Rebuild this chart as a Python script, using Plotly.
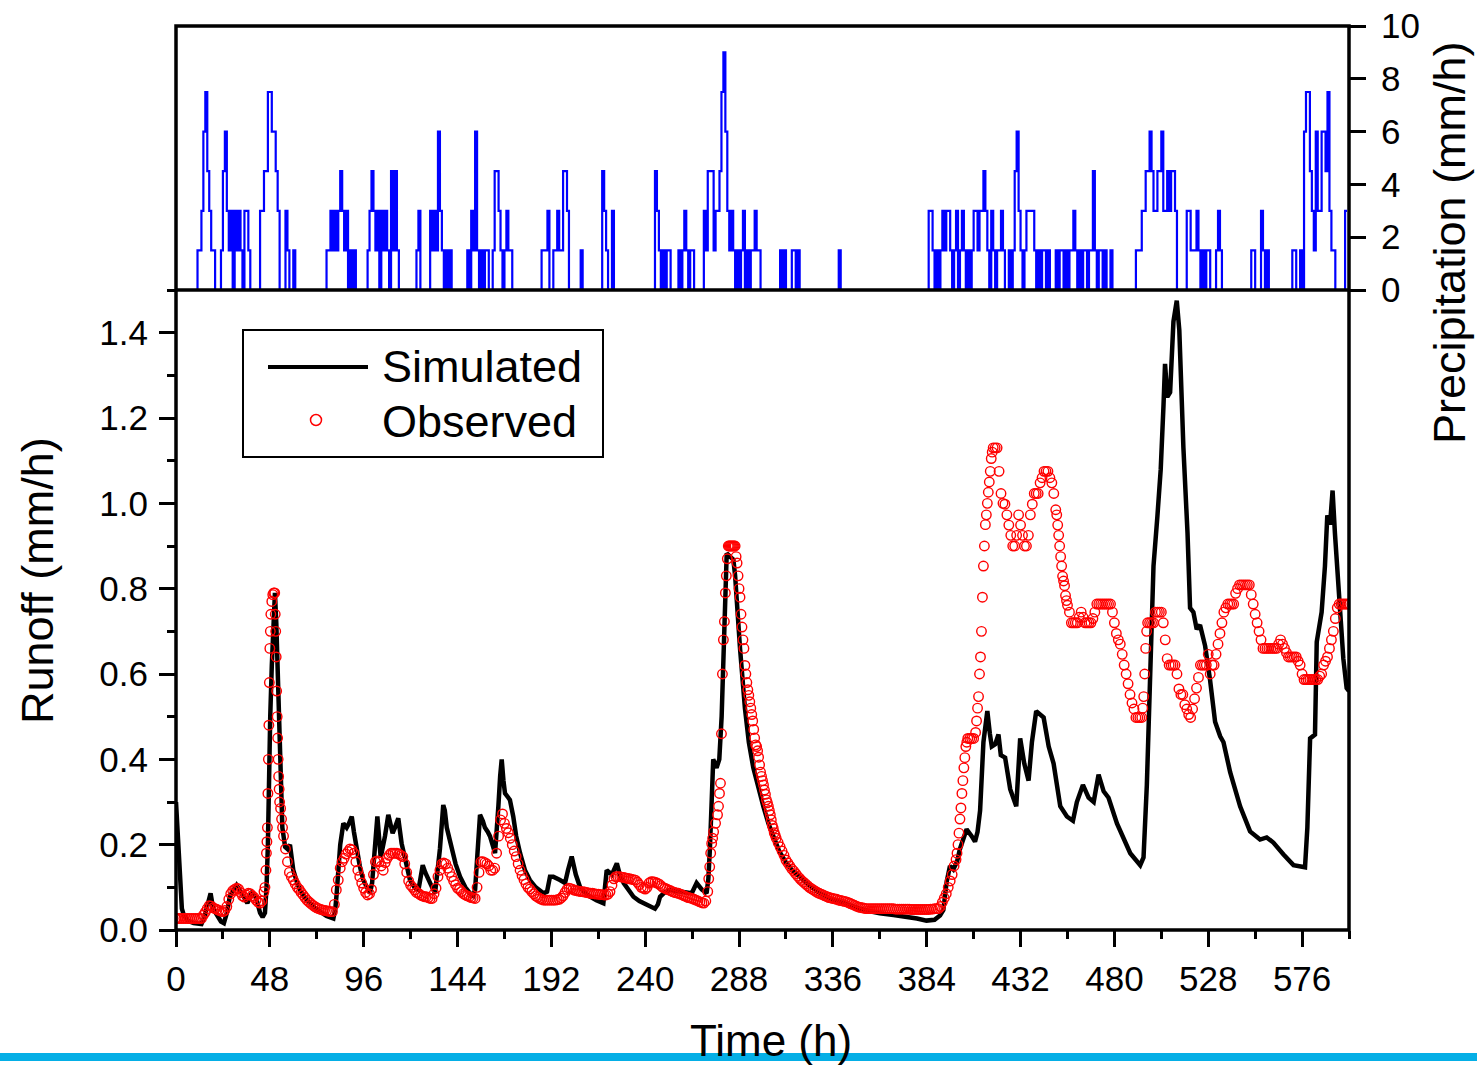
import plotly.graph_objects as go

# ---------------- data ----------------
# Hourly precipitation (mm/h), one row per 24 h, hours 0..599
precip_rows = [
    [0,0,0,0,0,0,0,0,0,0,0,1.5,1.5,3,6,7.5,4.5,3,1.5,1.5,0,0,0,1.5],
    [4.5,6,3,1.5,3,0,3,1.5,3,1.5,0,3,3,1.5,0,0,0,0,0,3,3,4.5,4.5,7.5],
    [7.5,6,6,4.5,3,0,0,0,3,1.5,0,0,1.5,0,0,0,0,0,0,0,0,0,0,0],
    [0,0,0,0,0,1.5,1.5,3,1.5,3,1.5,3,4.5,3,1.5,3,0,1.5,0,1.5,0,0,0,0],
    [0,0,1.5,3,4.5,3,1.5,3,0,3,1.5,3,1.5,0,4.5,1.5,4.5,1.5,0,0,0,0,0,0],
    [0,0,0,1.5,3,0,0,0,0,0,3,1.5,3,1.5,6,3,1.5,0,1.5,0,1.5,0,0,0],
    [0,0,0,0,0,1.5,0,3,1.5,6,1.5,0,1.5,0,1.5,1.5,0,0,1.5,4.5,4.5,3,1.5,0],
    [1.5,3,1.5,1.5,0,0,0,0,0,0,0,0,0,0,0,0,0,0,0,1.5,1.5,1.5,3,0],
    [0,1.5,1.5,3,1.5,1.5,4.5,4.5,3,0,0,0,0,0,0,1.5,0,0,0,0,0,0,0,0],
    [0,0,4.5,3,1.5,0,0,3,0,0,0,0,0,0,0,0,0,0,0,0,0,0,0,0],
    [0,0,0,0,0,4.5,3,1.5,0,1.5,0,1.5,1.5,0,0,0,0,1.5,0,1.5,3,1.5,0,1.5],
    [1.5,0,0,0,0,0,3,1.5,4.5,4.5,4.5,1.5,3,3,4.5,7.5,9,6,3,1.5,3,1.5,0,1.5],
    [0,1.5,3,0,1.5,0,1.5,1.5,3,1.5,1.5,0,0,0,0,0,0,0,0,0,0,1.5,0,1.5],
    [0,0,0,1.5,1.5,0,1.5,0,0,0,0,0,0,0,0,0,0,0,0,0,0,0,0,0],
    [0,0,0,1.5,0,0,0,0,0,0,0,0,0,0,0,0,0,0,0,0,0,0,0,0],
    [0,0,0,0,0,0,0,0,0,0,0,0,0,0,0,0,0,0,0,0,0,0,0,0],
    [0,3,3,1.5,0,1.5,0,1.5,3,1.5,3,3,1.5,0,1.5,3,0,1.5,3,1.5,0,1.5,0,1.5],
    [3,3,1.5,3,3,4.5,3,1.5,0,3,1.5,0,1.5,1.5,3,1.5,0,0,1.5,0,1.5,4.5,6,3],
    [1.5,0,1.5,3,3,3,3,1.5,0,1.5,0,1.5,1.5,0,1.5,0,0,0,1.5,0,1.5,1.5,0,1.5],
    [0,1.5,1.5,3,1.5,0,1.5,0,1.5,1.5,0,1.5,1.5,4.5,1.5,0,1.5,1.5,0,1.5,0,0,1.5,0],
    [0,0,0,0,0,0,0,0,0,0,0,1.5,1.5,1.5,3,3,4.5,4.5,6,4.5,3,3,4.5,4.5],
    [6,3,3,4.5,3,4.5,4.5,3,0,0,0,0,0,3,3,1.5,1.5,1.5,3,1.5,0,1.5,0,1.5],
    [1.5,0,0,0,1.5,3,1.5,0,0,0,0,0,0,0,0,0,0,0,0,0,0,0,1.5,1.5],
    [0,0,0,3,1.5,0,1.5,0,0,0,0,0,0,0,0,0,0,0,0,1.5,1.5,0,0,1.5],
    [0,6,7.5,7.5,4.5,3,1.5,6,3,3,6,6,4.5,7.5,3,1.5,1.5,0,0,0,0,0,3,3],
]

# Hourly observed runoff (mm/h), one row per 24 h, hours 0..599, plus hour 600
obs_rows = [
    [0.027,0.027,0.027,0.027,0.027,0.027,0.027,0.027,0.027,0.027,0.027,0.027,0.027,0.027,0.035,0.042,0.05,0.057,0.056,0.052,0.05,0.048,0.046,0.044],
    [0.043,0.046,0.055,0.072,0.085,0.092,0.095,0.098,0.096,0.088,0.08,0.077,0.082,0.086,0.085,0.08,0.076,0.07,0.065,0.063,0.068,0.09,0.14,0.32],
    [0.66,0.77,0.79,0.70,0.45,0.30,0.26,0.22,0.19,0.16,0.135,0.125,0.117,0.108,0.1,0.095,0.088,0.082,0.076,0.07,0.066,0.062,0.058,0.055],
    [0.052,0.05,0.048,0.047,0.046,0.045,0.044,0.043,0.043,0.06,0.094,0.117,0.145,0.16,0.168,0.178,0.184,0.19,0.188,0.18,0.16,0.14,0.125,0.11],
    [0.098,0.088,0.082,0.085,0.095,0.13,0.16,0.162,0.16,0.15,0.14,0.158,0.168,0.175,0.18,0.18,0.18,0.18,0.178,0.175,0.172,0.155,0.135,0.115],
    [0.105,0.1,0.094,0.088,0.086,0.082,0.08,0.078,0.078,0.076,0.074,0.074,0.085,0.098,0.125,0.14,0.155,0.157,0.155,0.145,0.135,0.125,0.115,0.106],
    [0.098,0.095,0.09,0.085,0.082,0.08,0.078,0.076,0.075,0.074,0.1,0.135,0.16,0.16,0.158,0.155,0.15,0.14,0.14,0.145,0.18,0.22,0.258,0.272],
    [0.25,0.238,0.228,0.215,0.2,0.185,0.172,0.155,0.14,0.128,0.118,0.108,0.1,0.096,0.09,0.085,0.08,0.077,0.074,0.072,0.07,0.07,0.07,0.07],
    [0.07,0.07,0.07,0.071,0.072,0.075,0.08,0.088,0.095,0.098,0.097,0.095,0.093,0.092,0.091,0.09,0.09,0.089,0.088,0.087,0.086,0.086,0.085,0.084],
    [0.084,0.083,0.083,0.082,0.082,0.084,0.09,0.105,0.12,0.125,0.125,0.125,0.124,0.123,0.122,0.121,0.12,0.119,0.118,0.117,0.112,0.106,0.1,0.098],
    [0.096,0.1,0.11,0.113,0.113,0.112,0.11,0.108,0.104,0.1,0.098,0.096,0.094,0.092,0.09,0.088,0.087,0.086,0.084,0.082,0.08,0.078,0.076,0.075],
    [0.074,0.072,0.07,0.068,0.066,0.064,0.063,0.068,0.09,0.148,0.203,0.23,0.25,0.27,0.32,0.46,0.68,0.79,0.87,0.9,0.9,0.9,0.9,0.86],
    [0.8,0.74,0.68,0.62,0.58,0.55,0.52,0.49,0.45,0.43,0.405,0.37,0.35,0.328,0.305,0.29,0.27,0.245,0.228,0.215,0.205,0.195,0.185,0.175],
    [0.164,0.157,0.15,0.143,0.138,0.132,0.126,0.121,0.116,0.112,0.108,0.104,0.1,0.097,0.094,0.091,0.088,0.086,0.084,0.082,0.08,0.078,0.076,0.075],
    [0.074,0.073,0.072,0.07,0.069,0.068,0.067,0.066,0.064,0.062,0.06,0.058,0.056,0.054,0.053,0.052,0.051,0.05,0.05,0.05,0.05,0.05,0.05,0.05],
    [0.05,0.05,0.05,0.05,0.05,0.05,0.05,0.05,0.049,0.049,0.049,0.049,0.049,0.049,0.049,0.049,0.048,0.048,0.048,0.048,0.048,0.048,0.048,0.048],
    [0.048,0.048,0.049,0.049,0.05,0.05,0.05,0.055,0.065,0.075,0.085,0.1,0.115,0.13,0.15,0.165,0.2,0.26,0.32,0.38,0.43,0.449,0.449,0.449],
    [0.449,0.463,0.52,0.6,0.7,0.853,0.95,1.0,1.05,1.105,1.13,1.13,1.13,1.075,1.023,1.0,0.998,0.973,0.949,0.925,0.9,0.9,0.925,0.973],
    [0.949,0.925,0.9,0.9,0.925,0.973,0.998,1.023,1.023,1.023,1.048,1.06,1.075,1.075,1.075,1.06,1.048,1.023,0.985,0.949,0.9,0.853,0.818,0.784],
    [0.761,0.745,0.72,0.72,0.72,0.72,0.733,0.745,0.733,0.72,0.72,0.72,0.72,0.73,0.745,0.764,0.764,0.764,0.764,0.764,0.764,0.764,0.764,0.745],
    [0.72,0.695,0.68,0.67,0.646,0.621,0.6,0.577,0.552,0.532,0.518,0.498,0.498,0.498,0.498,0.547,0.66,0.72,0.72,0.72,0.72,0.745,0.745,0.745],
    [0.745,0.72,0.68,0.636,0.621,0.621,0.621,0.621,0.6,0.565,0.552,0.552,0.528,0.518,0.505,0.498,0.518,0.542,0.567,0.592,0.621,0.621,0.621,0.621],
    [0.646,0.6,0.621,0.621,0.646,0.67,0.695,0.72,0.745,0.755,0.764,0.764,0.764,0.764,0.789,0.8,0.809,0.809,0.809,0.809,0.809,0.809,0.786,0.764],
    [0.74,0.72,0.7,0.68,0.66,0.66,0.66,0.66,0.66,0.66,0.66,0.66,0.67,0.68,0.67,0.66,0.65,0.64,0.64,0.64,0.64,0.64,0.63,0.621],
    [0.6,0.587,0.587,0.587,0.587,0.587,0.587,0.587,0.587,0.595,0.6,0.621,0.63,0.64,0.66,0.68,0.7,0.73,0.755,0.764,0.764,0.764,0.764,0.764],
    [0.764],
]

# Additional (sub-hourly) observed points on the steep limbs: (time h, runoff mm/h)
obs_extra = [
    (45.5,0.1),(46.25,0.18),(46.5,0.207),(46.75,0.24),(47.25,0.4),(47.5,0.48),(47.75,0.58),
    (48.25,0.70),(48.5,0.74),(49.5,0.786),(50.5,0.79),(50.75,0.74),(51.25,0.64),(51.5,0.56),
    (51.75,0.5),(52.25,0.4),(52.5,0.36),(52.75,0.33),(53.5,0.285),(54.5,0.24),
    (272.5,0.12),(273.5,0.18),(274.5,0.215),(277.5,0.29),(278.5,0.344),(279.5,0.6),(280.5,0.723),
    (281.5,0.83),(282.5,0.9),(283.5,0.9),(284.5,0.9),(285.5,0.9),
    (286.5,0.875),(287.5,0.83),(288.5,0.78),(289.5,0.71),(290.5,0.66),(291.5,0.6),(292.5,0.563),
    (293.5,0.535),(294.5,0.505),(295.5,0.47),(296.5,0.434),(297.5,0.42),(298.5,0.387),(299.5,0.36),
    (300.5,0.34),(301.5,0.318),(302.5,0.298),(303.5,0.28),(304.5,0.258),(305.5,0.238),(306.5,0.222),
    (399.5,0.18),(400.5,0.227),(401.5,0.286),(402.5,0.35),(403.5,0.404),(404.5,0.44),
    (409.5,0.49),(410.5,0.547),(411.5,0.64),(412.5,0.78),(413.5,0.9),(414.5,0.973),(415.5,1.026),
    (416.5,1.075),(417.5,1.12),
    (450.5,0.973),(451.5,0.925),(452.5,0.875),(453.5,0.829),(454.5,0.807),(455.5,0.772),
    (494.5,0.52),(495.5,0.6),(496.5,0.7),
]

# Simulated runoff (time h, runoff mm/h)
sim_points = [
    (0,0.30),(1,0.2),(2,0.1),(3,0.05),(4,0.035),(6,0.022),(9,0.016),(13,0.014),(14.5,0.03),(16,0.06),
    (17.7,0.086),(19,0.05),(20.8,0.035),(23,0.02),(24.5,0.016),(26,0.04),(27.6,0.08),(29.5,0.095),
    (31,0.105),(33,0.09),(35,0.072),(36.5,0.063),(38.7,0.086),(41,0.075),(43,0.04),(44.3,0.03),
    (45.5,0.04),(46.3,0.1),(47,0.2),(47.5,0.35),(48.2,0.5),(49,0.62),(50,0.75),(50.6,0.79),
    (51.3,0.72),(51.8,0.63),(52.5,0.5),(53.2,0.4),(54,0.3),(54.4,0.24),(55.8,0.195),(57,0.19),
    (58.3,0.2),(60,0.14),(62,0.11),(63.4,0.094),(66,0.075),(68.5,0.063),(71,0.052),(73.7,0.043),
    (77,0.033),(80.5,0.027),(81.5,0.05),(82.2,0.086),(83,0.14),(84,0.2),(85.6,0.25),(87.3,0.24),
    (88.5,0.25),(89.9,0.266),(91,0.23),(92.4,0.19),(94,0.15),(95.8,0.117),(97.5,0.1),(99.2,0.086),
    (100.3,0.11),(101.3,0.164),(103,0.266),(104.7,0.17),(106,0.21),(106.9,0.22),(108.6,0.27),
    (110,0.24),(110.8,0.227),(112,0.24),(113.7,0.262),(115.4,0.203),(117.5,0.16),(119.7,0.117),
    (122,0.1),(124,0.094),(125,0.12),(126.2,0.152),(127.5,0.135),(129,0.117),(131,0.1),(132.5,0.086),
    (133.5,0.12),(135,0.19),(136.7,0.293),(137.5,0.28),(138.5,0.24),(141,0.19),(143,0.155),
    (145.3,0.125),(148,0.1),(150.4,0.086),(152,0.08),(153,0.095),(154.3,0.18),(155.5,0.27),
    (157,0.255),(158,0.24),(159.5,0.23),(160.6,0.22),(163.2,0.18),(164,0.22),(164.9,0.29),
    (165.8,0.36),(166.6,0.4),(167.5,0.35),(168.3,0.32),(170,0.31),(170.8,0.305),(172.5,0.266),
    (174,0.22),(176,0.18),(178.5,0.14),(181,0.117),(184,0.1),(188,0.086),(189.8,0.09),(191.3,0.125),
    (193,0.125),(196.4,0.117),(199,0.11),(200.5,0.14),(202.4,0.172),(204.5,0.13),(206.7,0.1),
    (209,0.088),(211.8,0.078),(215,0.07),(218.6,0.063),(220.3,0.14),(221.5,0.135),(223,0.13),
    (225.5,0.156),(227,0.13),(229,0.11),(231.5,0.092),(234,0.078),(237,0.068),(240.8,0.059),
    (245,0.05),(246.5,0.06),(247.6,0.078),(250,0.088),(252.7,0.094),(255,0.092),(257.8,0.09),
    (261,0.088),(263.8,0.086),(266.3,0.11),(268.9,0.095),(271.4,0.086),(272.3,0.12),(273.1,0.19),
    (274,0.3),(274.8,0.4),(276.5,0.38),(277.9,0.4),(279.1,0.5),(280,0.62),(280.8,0.77),
    (281.7,0.883),(283.4,0.875),(285.1,0.868),(286,0.83),(286.8,0.77),(288.5,0.66),(291,0.52),
    (293,0.44),(295.3,0.38),(298,0.33),(300.4,0.29),(303,0.25),(305.5,0.22),(308.5,0.185),
    (312.3,0.156),(315.5,0.138),(319.1,0.125),(324,0.104),(329.4,0.086),(334,0.075),(339.6,0.066),
    (345,0.057),(349.8,0.05),(355,0.044),(360,0.039),(367,0.035),(373.7,0.031),(379,0.027),
    (383.9,0.022),(386,0.023),(388,0.024),(390.8,0.034),(392.5,0.047),(394.2,0.113),(395.9,0.15),
    (397.6,0.142),(399.5,0.16),(401,0.19),(403,0.215),(404.4,0.236),(407,0.22),(408.7,0.207),
    (410,0.23),(411.3,0.28),(413,0.44),(415,0.513),(416.3,0.46),(417.3,0.43),(419,0.435),
    (420.7,0.458),(421.9,0.41),(424.1,0.404),(426.7,0.33),(429.8,0.29),(431.8,0.449),(433.9,0.39),
    (436.1,0.35),(437.8,0.44),(440,0.513),(443.8,0.498),(446.4,0.43),(448.9,0.39),(452.3,0.29),
    (455.7,0.266),(458.8,0.256),(460.8,0.3),(463.9,0.34),(466.8,0.31),(469.4,0.3),(471.9,0.364),
    (474.5,0.325),(477,0.31),(481.3,0.25),(488.1,0.18),(493.2,0.152),(494.9,0.17),(496.6,0.34),
    (498.3,0.587),(500,0.853),(502,0.97),(503.7,1.08),(505.1,1.228),(505.9,1.327),(507.1,1.25),
    (508.5,1.26),(510.2,1.426),(511.9,1.475),(513.2,1.406),(515.3,1.13),(517.4,0.93),(518.7,0.755),
    (520.4,0.745),(522.1,0.705),(523.8,0.715),(526.4,0.666),(528.9,0.587),(531.5,0.488),
    (534.1,0.454),(535.8,0.44),(539.2,0.37),(544.3,0.29),(549.4,0.231),(554.5,0.212),(557.9,0.217),
    (561.3,0.205),(566.5,0.177),(571.6,0.152),(577.5,0.147),(578.7,0.24),(580.1,0.449),
    (582.6,0.458),(583.5,0.675),(586,0.745),(587.7,0.853),(588.9,0.972),(590.3,0.95),(591.6,1.03),
    (592.8,0.93),(594.5,0.8),(597.1,0.636),(598.8,0.567),(600,0.56),
]

x_tick_values = [0, 48, 96, 144, 192, 240, 288, 336, 384, 432, 480, 528, 576]
series_names = ["Simulated", "Observed"]

# ---------------- assemble series ----------------
precip_mm = [v for row in precip_rows for v in row]
precip_hours = list(range(len(precip_mm)))

obs_hourly = [v for row in obs_rows for v in row]
obs_time = list(range(len(obs_hourly))) + [p[0] for p in obs_extra]
obs_runoff = obs_hourly + [p[1] for p in obs_extra]

sim_time = [p[0] for p in sim_points]
sim_runoff = [p[1] for p in sim_points]

FONT = "Liberation Sans, Arial, Helvetica, sans-serif"

# plot-area geometry (px) used for paper-coordinate conversion
L, R, T, B = 176, 1349, 26, 930
W, H = 1477, 1066
PW, PH = R - L, B - T
split = (B - 290) / PH  # boundary between runoff and precipitation panels


def px(xp):
    return (xp - L) / PW


def py(yp):
    return (B - yp) / PH


fig = go.Figure()

fig.add_trace(go.Scatter(
    x=precip_hours, y=precip_mm, mode="lines", xaxis="x", yaxis="y2",
    line=dict(color="#0000FF", width=2.2, shape="hv"), name="Precipitation",
    showlegend=False,
))
fig.add_trace(go.Scatter(
    x=sim_time, y=sim_runoff, mode="lines", xaxis="x", yaxis="y",
    line=dict(color="black", width=4.5), name=series_names[0], showlegend=False,
))
fig.add_trace(go.Scatter(
    x=obs_time, y=obs_runoff, mode="markers", xaxis="x", yaxis="y",
    marker=dict(symbol="circle-open", size=9.5, color="#FF0000",
                line=dict(width=1.4, color="#FF0000")),
    name=series_names[1], showlegend=False, cliponaxis=True,
))

tick_common = dict(ticks="outside", ticklen=16, tickwidth=3, tickcolor="black",
                   showgrid=False, zeroline=False, showline=False, automargin=False,
                   tickfont=dict(family=FONT, size=35, color="black"))

fig.update_layout(
    width=W, height=H, autosize=False,
    margin=dict(l=L, r=W - R, t=T, b=H - B, pad=0),
    paper_bgcolor="white", plot_bgcolor="white",
    font=dict(family=FONT, color="black", size=35),
    showlegend=False,
    xaxis=dict(range=[0, 600], tickvals=x_tick_values, anchor="y",
               ticklabelstandoff=2,
               minor=dict(dtick=24, tick0=0, ticks="outside", ticklen=8,
                          tickwidth=3, tickcolor="black", showgrid=False),
               **tick_common),
    yaxis=dict(domain=[0, split], range=[0, 1.5], tick0=0, dtick=0.2,
               tickformat=".1f", anchor="x", ticklabelstandoff=4,
               minor=dict(dtick=0.1, tick0=0, ticks="outside", ticklen=8,
                          tickwidth=3, tickcolor="black", showgrid=False),
               **tick_common),
    yaxis2=dict(domain=[split, 1], range=[0, 10], tick0=0, dtick=2,
                side="right", anchor="x", ticklabelstandoff=8, **tick_common),
)

shapes = [
    # frame around both panels
    dict(type="rect", xref="paper", yref="paper", x0=0, x1=1, y0=0, y1=1,
         line=dict(color="black", width=3.5), layer="above"),
    # panel separator
    dict(type="line", xref="paper", yref="paper", x0=0, x1=1, y0=split, y1=split,
         line=dict(color="black", width=3.5), layer="above"),
    # legend box
    dict(type="rect", xref="paper", yref="paper", x0=px(243), x1=px(603),
         y0=py(457), y1=py(330), line=dict(color="black", width=2),
         fillcolor="white", layer="above"),
    # legend line sample
    dict(type="line", xref="paper", yref="paper", x0=px(268), x1=px(368),
         y0=py(367), y1=py(367), line=dict(color="black", width=4), layer="above"),
    # legend marker sample
    dict(type="circle", xref="paper", yref="paper", x0=px(310.5), x1=px(321.5),
         y0=py(425.5), y1=py(414.5), line=dict(color="#FF0000", width=1.5),
         layer="above"),
    # cyan page rule at the bottom
    dict(type="rect", xref="paper", yref="paper", x0=px(-5), x1=px(W + 5),
         y0=py(1061), y1=py(1053), line=dict(width=0), fillcolor="#05AFE6",
         layer="below"),
]
fig.update_layout(shapes=shapes)

annotations = [
    dict(text="Simulated", x=px(380), y=py(367), xanchor="left", yanchor="middle",
         font=dict(family=FONT, size=45, color="black")),
    dict(text="Observed", x=px(380), y=py(421), xanchor="left", yanchor="middle",
         font=dict(family=FONT, size=45, color="black")),
    dict(text="Runoff (mm/h)", x=px(38), y=py(581), textangle=-90,
         xanchor="center", yanchor="middle",
         font=dict(family=FONT, size=45, color="black")),
    dict(text="Precipitation (mm/h)", x=px(1450), y=py(243), textangle=-90,
         xanchor="center", yanchor="middle",
         font=dict(family=FONT, size=45, color="black")),
    dict(text="Time (h)", x=px(771), y=py(1040), xanchor="center", yanchor="middle",
         font=dict(family=FONT, size=44, color="black")),
]
for a in annotations:
    a.update(xref="paper", yref="paper", showarrow=False)
fig.update_layout(annotations=annotations)

fig.write_html("out.html")
